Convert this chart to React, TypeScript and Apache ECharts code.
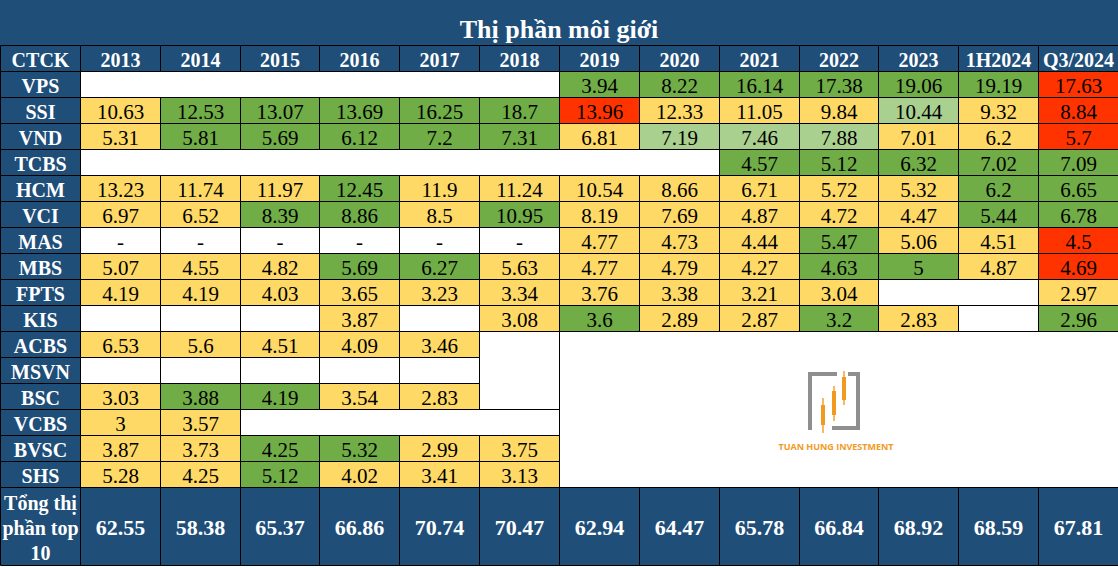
import React, { useEffect, useRef } from 'react';
import * as echarts from 'echarts';

const TITLE = 'Thị phần môi giới';
const HEAD_LABEL = 'CTCK';
const TOTAL_LABEL = 'Tổng thị\nphần top\n10';
const COLUMNS = ['2013', '2014', '2015', '2016', '2017', '2018', '2019', '2020', '2021', '2022', '2023', '1H2024', 'Q3/2024'];
const FIRMS = ['VPS', 'SSI', 'VND', 'TCBS', 'HCM', 'VCI', 'MAS', 'MBS', 'FPTS', 'KIS', 'ACBS', 'MSVN', 'BSC', 'VCBS', 'BVSC', 'SHS'];

type V = number | string | null;
const VPS: V[] = [null, null, null, null, null, null, 3.94, 8.22, 16.14, 17.38, 19.06, 19.19, 17.63];
const SSI: V[] = [10.63, 12.53, 13.07, 13.69, 16.25, 18.7, 13.96, 12.33, 11.05, 9.84, 10.44, 9.32, 8.84];
const VND: V[] = [5.31, 5.81, 5.69, 6.12, 7.2, 7.31, 6.81, 7.19, 7.46, 7.88, 7.01, 6.2, 5.7];
const TCBS: V[] = [null, null, null, null, null, null, null, null, 4.57, 5.12, 6.32, 7.02, 7.09];
const HCM: V[] = [13.23, 11.74, 11.97, 12.45, 11.9, 11.24, 10.54, 8.66, 6.71, 5.72, 5.32, 6.2, 6.65];
const VCI: V[] = [6.97, 6.52, 8.39, 8.86, 8.5, 10.95, 8.19, 7.69, 4.87, 4.72, 4.47, 5.44, 6.78];
const MAS: V[] = ['-', '-', '-', '-', '-', '-', 4.77, 4.73, 4.44, 5.47, 5.06, 4.51, 4.5];
const MBS: V[] = [5.07, 4.55, 4.82, 5.69, 6.27, 5.63, 4.77, 4.79, 4.27, 4.63, 5, 4.87, 4.69];
const FPTS: V[] = [4.19, 4.19, 4.03, 3.65, 3.23, 3.34, 3.76, 3.38, 3.21, 3.04, null, null, 2.97];
const KIS: V[] = [null, null, null, 3.87, null, 3.08, 3.6, 2.89, 2.87, 3.2, 2.83, null, 2.96];
const ACBS: V[] = [6.53, 5.6, 4.51, 4.09, 3.46];
const MSVN: V[] = [];
const BSC: V[] = [3.03, 3.88, 4.19, 3.54, 2.83];
const VCBS: V[] = [3, 3.57];
const BVSC: V[] = [3.87, 3.73, 4.25, 5.32, 2.99, 3.75];
const SHS: V[] = [5.28, 4.25, 5.12, 4.02, 3.41, 3.13];
const FIRM_VALUES: V[][] = [VPS, SSI, VND, TCBS, HCM, VCI, MAS, MBS, FPTS, KIS, ACBS, MSVN, BSC, VCBS, BVSC, SHS];

// Conditional-format colour code per cell: Y yellow, G green, L light green, R red, W blank
const FIRM_COLOR_CODES = [
  'WWWWWWGGGGGGR', // VPS
  'YGGGGGRYYYLYR', // SSI
  'YGGGGGYLLLYYR', // VND
  'WWWWWWWWGGGGG', // TCBS
  'YYYGYYYYYYYGG', // HCM
  'YYGGYGYYYYYGG', // VCI
  'WWWWWWYYYGYYR', // MAS
  'YYYGGYYYYGGYR', // MBS
  'YYYYYYYYYYWWY', // FPTS
  'WWWYWYGYYGYWG', // KIS
  'YYYYYWWWWWWWW', // ACBS
  'WWWWWWWWWWWWW', // MSVN
  'YGGYYWWWWWWWW', // BSC
  'YYWWWWWWWWWWW', // VCBS
  'YYGGYYWWWWWWW', // BVSC
  'YYGYYYWWWWWWW', // SHS
];

const TOTAL_TOP10 = [62.55, 58.38, 65.37, 66.86, 70.74, 70.47, 62.94, 64.47, 65.78, 66.84, 68.92, 68.59, 67.81];

// merged blank blocks: [firmRow, colStart, colSpan, rowSpan]
const MERGES = [
  [0, 0, 6, 1],
  [3, 0, 8, 1],
  [8, 10, 2, 1],
  [10, 5, 1, 3],
  [13, 2, 4, 1],
  [10, 6, 7, 6],
];

const PALETTE: Record<string, string> = {
  Y: '#FFD966',
  G: '#70AD47',
  L: '#A9D08E',
  R: '#FF3300',
  W: '#FFFFFF',
};
const NAVY = '#1F4E79';
const SERIF = '"Liberation Serif", "Times New Roman", serif';

type Cell = { x0: number; x1: number; y0: number; y1: number; fill: string; text: string; kind: string };

function buildCells(): Cell[] {
  const cells: Cell[] = [];
  const nCols = COLUMNS.length;
  cells.push({ x0: 0, x1: 1, y0: 0, y1: 1, fill: NAVY, text: HEAD_LABEL, kind: 'head' });
  COLUMNS.forEach((c, j) => cells.push({ x0: j + 1, x1: j + 2, y0: 0, y1: 1, fill: NAVY, text: c, kind: 'head' }));
  const covered = new Set<string>();
  const origins = new Map<string, number[]>();
  MERGES.forEach((m) => {
    const [r, c, cs, rs] = m;
    origins.set(r + ':' + c, m);
    for (let i = 0; i < rs; i++) for (let k = 0; k < cs; k++) if (i || k) covered.add((r + i) + ':' + (c + k));
  });
  FIRMS.forEach((f, r) => {
    const y = r + 1;
    cells.push({ x0: 0, x1: 1, y0: y, y1: y + 1, fill: NAVY, text: f, kind: 'head' });
    for (let j = 0; j < nCols; j++) {
      const key = r + ':' + j;
      if (covered.has(key)) continue;
      const m = origins.get(key);
      if (m) {
        cells.push({ x0: j + 1, x1: j + 1 + m[2], y0: y, y1: y + m[3], fill: '#FFFFFF', text: '', kind: 'cell' });
        continue;
      }
      const v = FIRM_VALUES[r][j];
      const code = FIRM_COLOR_CODES[r][j] || 'W';
      cells.push({ x0: j + 1, x1: j + 2, y0: y, y1: y + 1, fill: PALETTE[code], text: v == null ? '' : String(v), kind: 'cell' });
    }
  });
  const ty = FIRMS.length + 1;
  cells.push({ x0: 0, x1: 1, y0: ty, y1: ty + 3, fill: NAVY, text: TOTAL_LABEL, kind: 'totalLabel' });
  TOTAL_TOP10.forEach((v, j) => cells.push({ x0: j + 1, x1: j + 2, y0: ty, y1: ty + 3, fill: NAVY, text: String(v), kind: 'total' }));
  return cells;
}

export default function App() {
  const ref = useRef<HTMLDivElement>(null);
  useEffect(() => {
    if (!ref.current) return;
    const chart = echarts.init(ref.current, undefined, { renderer: 'svg' });
    const cells = buildCells();
    const nRows = FIRMS.length + 1 + 3;
    const ORANGE = '#F29A1F';
    const GRAY = '#8F8F8F';
    const logoRect = (x: number, y: number, w: number, h: number, fill: string) => ({
      type: 'rect',
      z: 100,
      shape: { x, y, width: w, height: h },
      style: { fill },
    });
    chart.setOption({
      animation: false,
      backgroundColor: '#FFFFFF',
      title: {
        text: TITLE,
        left: 'center',
        top: 11,
        textStyle: { color: '#FFFFFF', fontSize: 26, fontWeight: 'bold', fontFamily: SERIF },
      },
      grid: { left: 0, right: 0, top: 45, bottom: 3 },
      xAxis: { type: 'value', min: 0, max: COLUMNS.length + 1, show: false },
      yAxis: { type: 'value', min: 0, max: nRows, inverse: true, show: false },
      graphic: {
        elements: [
          { type: 'rect', z: 0, shape: { x: 0, y: 0, width: 1118, height: 46 }, style: { fill: NAVY } },
          logoRect(808, 372, 29, 4, GRAY),
          logoRect(808, 372, 4, 58, GRAY),
          logoRect(848, 372, 12, 4, GRAY),
          logoRect(856, 372, 4, 58, GRAY),
          logoRect(832, 426, 28, 4, GRAY),
          logoRect(822.3, 398, 1.4, 35, ORANGE),
          logoRect(821, 405, 4, 20, ORANGE),
          logoRect(833.3, 386, 1.4, 35, ORANGE),
          logoRect(832, 391, 4, 24, ORANGE),
          logoRect(843.3, 371, 1.4, 34, ORANGE),
          logoRect(842, 377, 4, 23, ORANGE),
          {
            type: 'text',
            z: 100,
            x: 836,
            y: 446,
            style: {
              text: 'TUAN HUNG INVESTMENT',
              fill: ORANGE,
              fontSize: 9,
              fontWeight: 'bold',
              fontFamily: '"Open Sans", "Liberation Sans", sans-serif',
              align: 'center',
              verticalAlign: 'middle',
              textAlign: 'center',
              textVerticalAlign: 'middle',
            },
          },
        ],
      },
      series: [
        {
          type: 'custom',
          clip: false,
          z: 2,
          data: cells.map((c) => [c.x0, c.y0]),
          renderItem: (params: any, api: any) => {
            const c = cells[params.dataIndex];
            const a = api.coord([c.x0, c.y0]);
            const b = api.coord([c.x1, c.y1]);
            const ax = Math.round(a[0]);
            const ay = Math.round(a[1]);
            const bx = Math.round(b[0]);
            const by = Math.round(b[1]);
            const x = ax + 0.5;
            const y = ay + 0.5;
            const w = bx - ax;
            const h = by - ay;
            const children: any[] = [
              { type: 'rect', shape: { x, y, width: w, height: h }, style: { fill: c.fill, stroke: '#000000', lineWidth: 1 } },
            ];
            if (c.text) {
              const white = c.kind !== 'cell';
              const bold = c.kind !== 'cell';
              const fontSize = c.kind === 'total' ? 22 : c.kind === 'cell' ? 21 : 20;
              children.push({
                type: 'text',
                x: x + w / 2,
                y: y + h / 2 + 1,
                style: {
                  text: c.text,
                  fill: white ? '#FFFFFF' : '#000000',
                  fontSize,
                  fontWeight: bold ? 'bold' : 'normal',
                  fontFamily: SERIF,
                  lineHeight: 25,
                  align: 'center',
                  verticalAlign: 'middle',
                  textAlign: 'center',
                  textVerticalAlign: 'middle',
                },
              });
            }
            return { type: 'group', children };
          },
        },
      ],
    });
    return () => chart.dispose();
  }, []);
  return <div ref={ref} style={{ position: 'fixed', left: 0, top: 0, width: 1118, height: 568 }} />;
}
